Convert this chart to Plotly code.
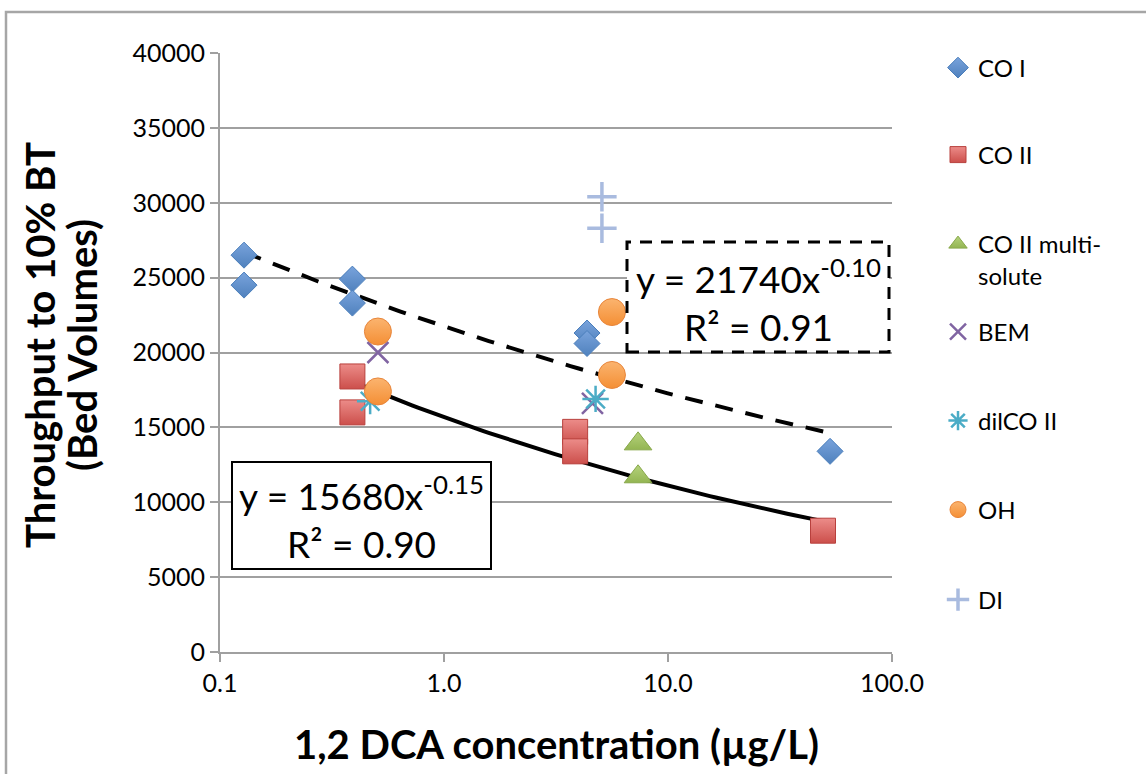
import numpy as np
import plotly.graph_objects as go

# 1,2-DCA concentration (µg/L) vs. throughput to 10% breakthrough (bed volumes)
co1_x = [0.128, 0.128, 0.39, 0.39, 4.35, 4.35, 52.9]
co1_y = [26500, 24500, 24900, 23300, 21300, 20600, 13400]

co2_x = [0.39, 0.39, 3.85, 3.85, 49.2]
co2_y = [18400, 16000, 14700, 13400, 8100]

co2m_x = [7.35, 7.35]
co2m_y = [13900, 11700]

bem_x = [0.507, 4.6]
bem_y = [20000, 16600]

dil_x = [0.468, 4.75]
dil_y = [16750, 16900]

oh_x = [0.507, 0.507, 5.62, 5.62]
oh_y = [21400, 17400, 22700, 18500]

di_x = [5.07, 5.07]
di_y = [30400, 28300]

# power-law trendlines y = a * x^b
fit_co1 = dict(a=21740, b=-0.10, r2=0.91)
fit_co2 = dict(a=15680, b=-0.15, r2=0.90)

x_ticks = [0.1, 1, 10, 100]
x_tick_text = ["0.1", "1.0", "10.0", "100.0"]

FONT = "Lato"
GRID = "#a0a0a0"

# plot-area geometry in pixels
FW, FH = 1146, 774
L, R, T, B = 220, 892, 53, 652
W, H = R - L, B - T


def px(x):
    return (x - L) / W


def py(y):
    return (B - y) / H


fig = go.Figure()

# trendlines first so markers sit on top
for fit, src, dash in ((fit_co1, co1_x, "18px,13px"), (fit_co2, co2_x, "solid")):
    xs = np.geomspace(min(src), max(src), 80)
    fig.add_trace(go.Scatter(
        x=xs, y=fit["a"] * xs ** fit["b"], mode="lines",
        line=dict(color="black", width=4, dash=dash),
        showlegend=False, hoverinfo="skip"))

series = [
    # name, x, y, symbol, size, fill, outline, outline width, gradient (bottom)
    ("CO I", co1_x, co1_y, "diamond", 20, "#79a3dc", "#4a7ebb", 1, "#4f81bd"),
    ("CO II", co2_x, co2_y, "square", 25, "#ec8c89", "#b8403d", 1, "#cc4f4b"),
    ("CO II multi-<br>solute", co2m_x, co2m_y, "triangle-up", 24, "#b5d27c", "#88a84a", 1, "#93b552"),
    ("BEM", bem_x, bem_y, "x-thin-open", 21, "#8064a2", "#8064a2", 2.5, None),
    ("dilCO II", dil_x, dil_y, "asterisk-open", 22, "#4bacc6", "#4bacc6", 2.5, None),
    ("OH", oh_x, oh_y, "circle", 27, "#fbb46f", "#e8853a", 1, "#f48f35"),
    ("DI", di_x, di_y, "cross-thin-open", 21, "#a9bbdf", "#a9bbdf", 3.5, None),
]

# vertical pixel positions of the legend entries
legend_rows = [68, 155, 243, 332, 421, 510, 600]

legends = {}
for i, (name, xs, ys, sym, size, fill, edge, ew, grad) in enumerate(series):
    key = "legend" if i == 0 else f"legend{i + 1}"
    marker = dict(symbol=sym, size=size, color=fill, line=dict(color=edge, width=ew))
    if grad:
        marker["gradient"] = dict(type="vertical", color=grad)
    fig.add_trace(go.Scatter(x=xs, y=ys, mode="markers", name=name, marker=marker,
                             legend=key, showlegend=True))
    multi = "<br>" in name
    legends[key] = dict(
        x=px(938), xanchor="left",
        y=py(legend_rows[i] - 21) if multi else py(legend_rows[i]),
        yanchor="top" if multi else "middle",
        valign="top",
        font=dict(family=FONT, size=24, color="black"),
        bgcolor="rgba(0,0,0,0)", borderwidth=0,
    )

shapes = [
    # outer chart frame
    dict(type="rect", xref="paper", yref="paper", x0=px(6), x1=px(1160), y0=py(790), y1=py(12),
         line=dict(color="#a6a6a6", width=2.5), fillcolor="rgba(0,0,0,0)", layer="below"),
    # equation boxes
    dict(type="rect", xref="paper", yref="paper", x0=px(627), x1=px(889), y0=py(352), y1=py(242),
         line=dict(color="black", width=3, dash="12px,9px"), fillcolor="white", layer="above"),
    dict(type="rect", xref="paper", yref="paper", x0=px(232), x1=px(491), y0=py(569), y1=py(462),
         line=dict(color="black", width=2), fillcolor="white", layer="above"),
]


def eq_text(fit):
    return (f"y = {fit['a']}x<sup>{fit['b']:.2f}</sup><br>"
            f"R² = {fit['r2']:.2f}")


title_font = dict(family=FONT, size=40, color="black")
annotations = [
    dict(xref="paper", yref="paper", x=px(758), y=py(300), text=eq_text(fit_co1), showarrow=False,
         xanchor="center", yanchor="middle",
         font=dict(family=FONT, size=37, color="black"), align="center"),
    dict(xref="paper", yref="paper", x=px(361), y=py(517), text=eq_text(fit_co2), showarrow=False,
         xanchor="center", yanchor="middle",
         font=dict(family=FONT, size=37, color="black"), align="center"),
    # y-axis title, two tightly spaced lines
    dict(xref="paper", yref="paper", x=px(40), y=py(345), text="<b>Throughput to 10% BT</b>",
         textangle=-90, showarrow=False, xanchor="center", yanchor="middle", font=title_font),
    dict(xref="paper", yref="paper", x=px(82), y=py(345), text="<b>(Bed Volumes)</b>",
         textangle=-90, showarrow=False, xanchor="center", yanchor="middle", font=title_font),
    # x-axis title
    dict(xref="paper", yref="paper", x=0.5, y=py(744), text="<b>1,2 DCA concentration (µg/L)</b>",
         showarrow=False, xanchor="center", yanchor="middle", font=title_font),
]

fig.update_layout(
    width=FW, height=FH,
    margin=dict(l=L, r=FW - R, t=T, b=FH - B, autoexpand=False),
    paper_bgcolor="white", plot_bgcolor="white",
    font=dict(family=FONT, color="black"),
    shapes=shapes, annotations=annotations,
    xaxis=dict(type="log", range=[-1, 2], tickvals=x_ticks, ticktext=x_tick_text,
               showgrid=False, zeroline=False, showline=True, linecolor=GRID, linewidth=2,
               ticks="outside", ticklen=8, tickwidth=2, tickcolor=GRID,
               tickfont=dict(family=FONT, size=25, color="black")),
    yaxis=dict(range=[0, 40000], dtick=5000, tickformat="d", showgrid=True,
               gridcolor=GRID, gridwidth=2,
               zeroline=False, showline=True, linecolor=GRID, linewidth=2,
               ticks="outside", ticklen=8, tickwidth=2, tickcolor=GRID,
               tickfont=dict(family=FONT, size=25, color="black")),
    **legends,
)

fig.write_html("out.html")
